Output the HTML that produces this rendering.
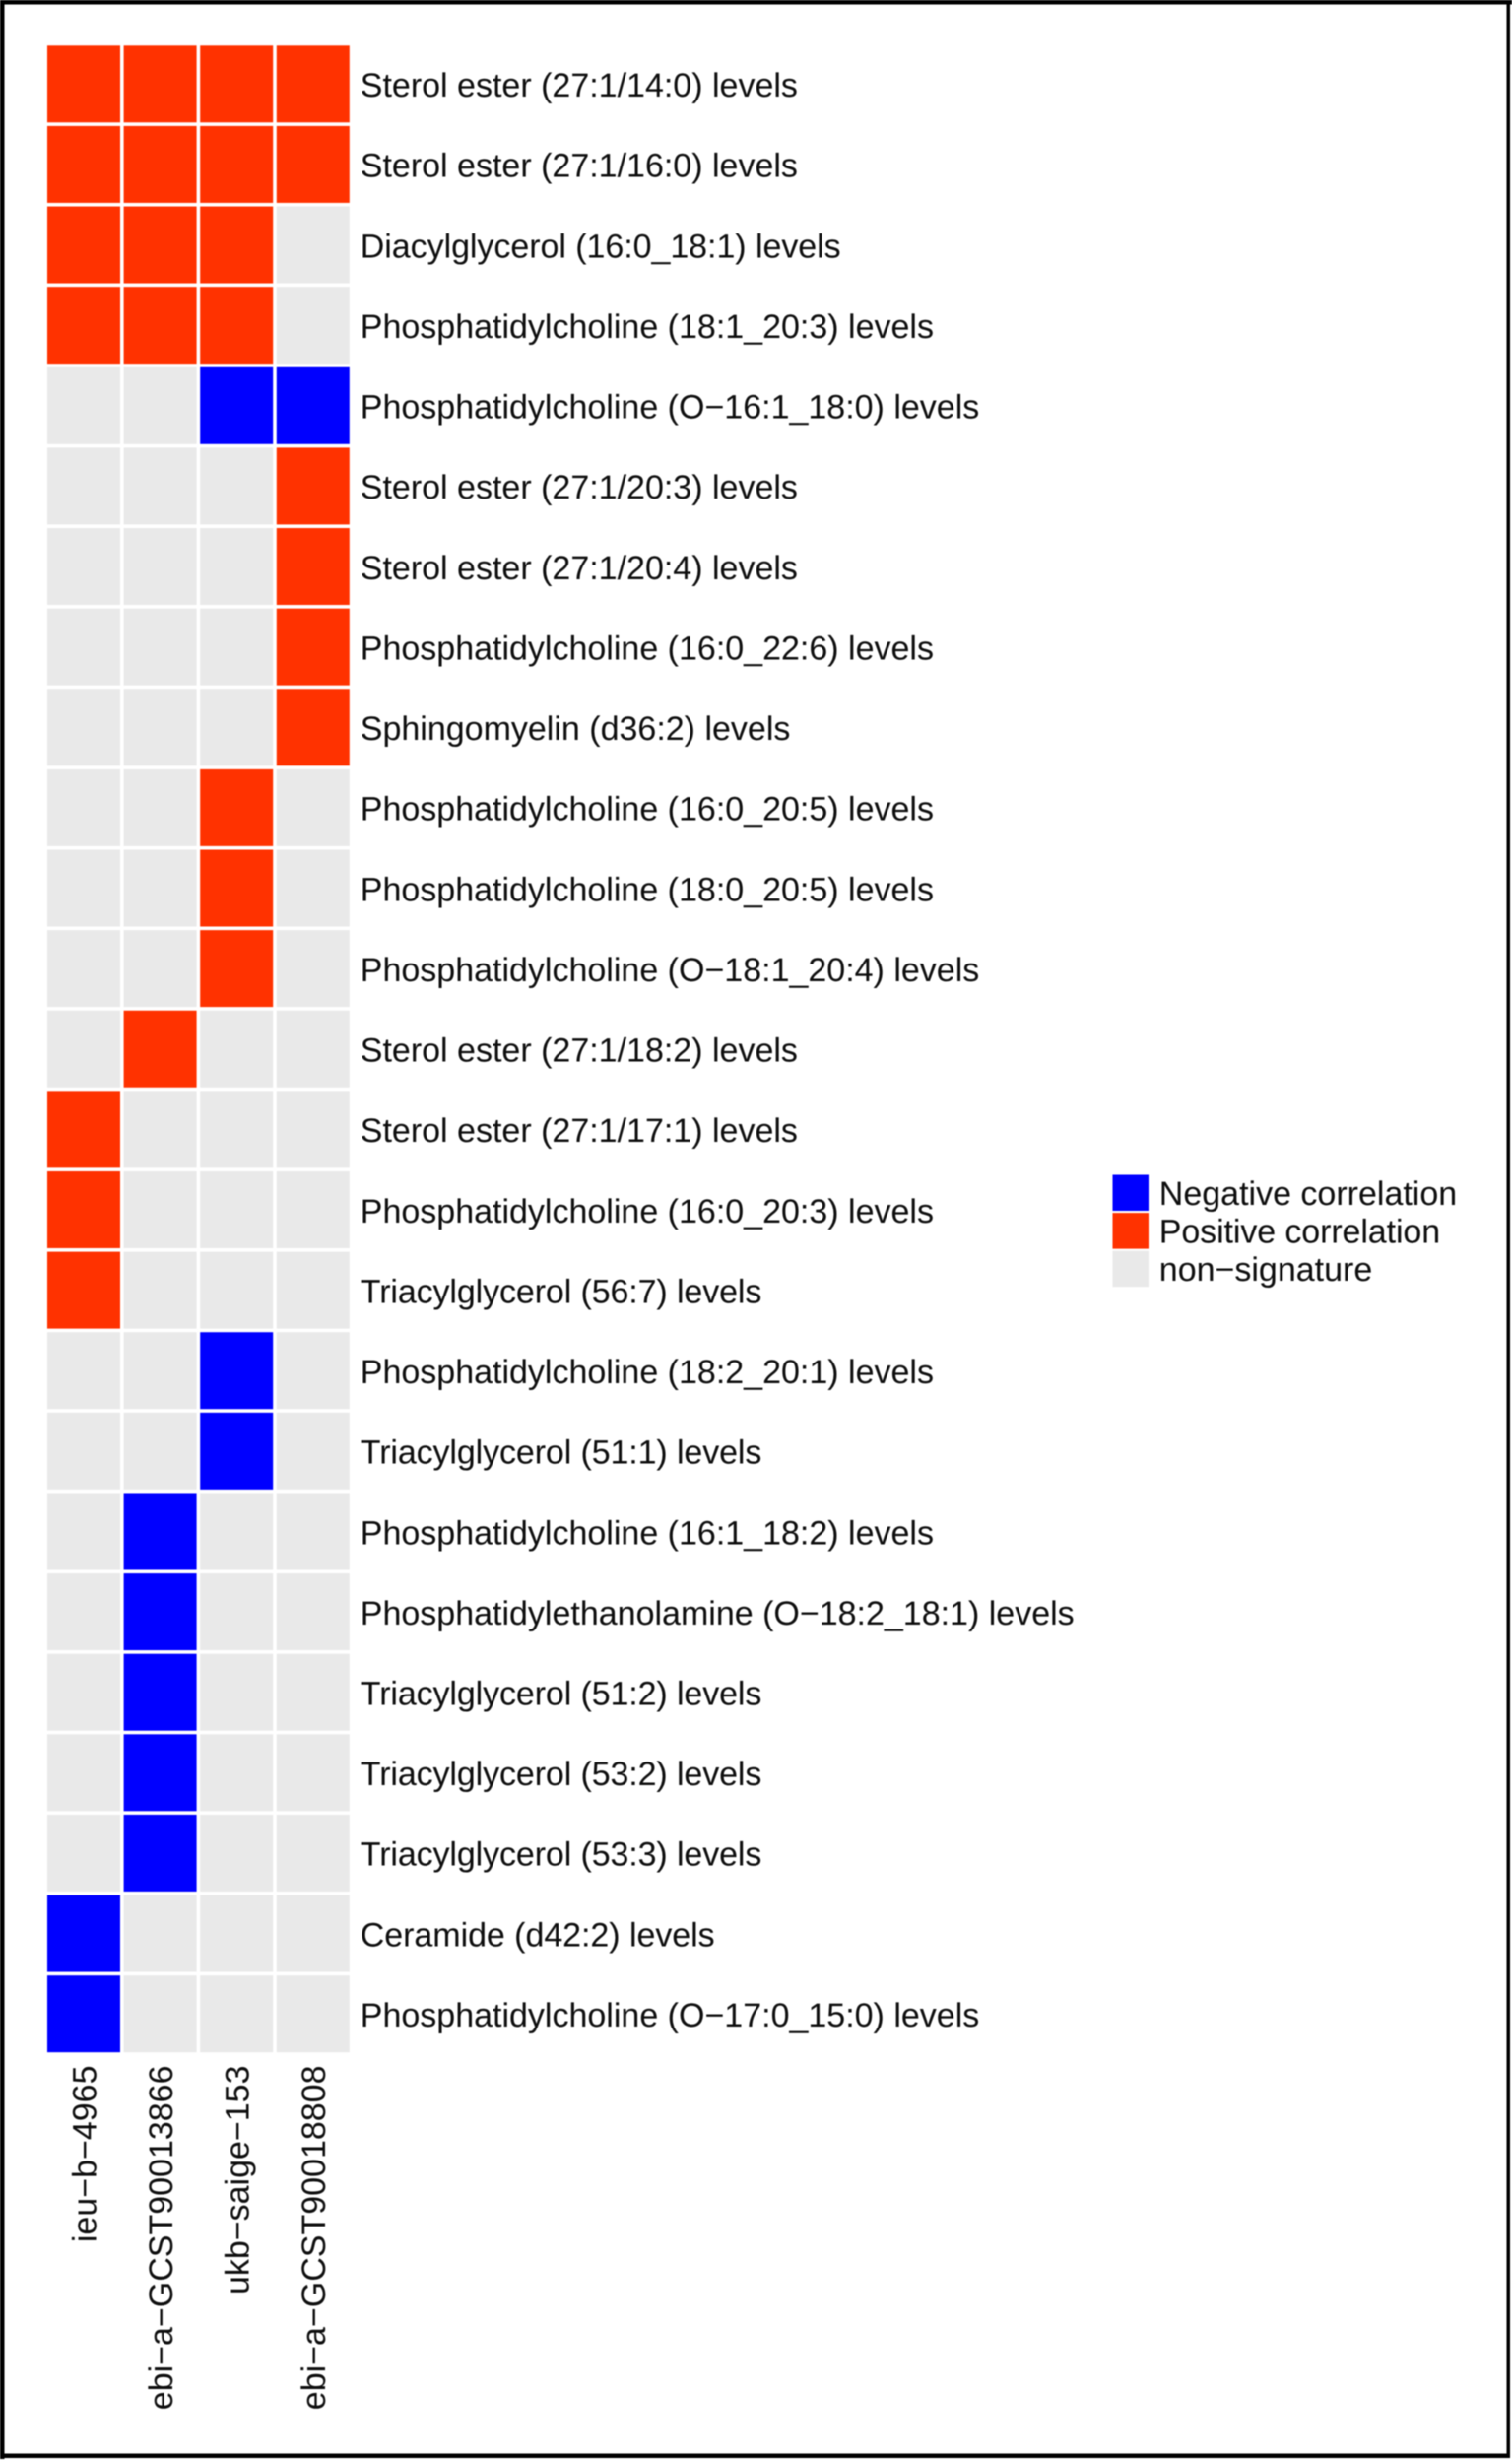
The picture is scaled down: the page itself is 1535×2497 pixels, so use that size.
<!DOCTYPE html>
<html lang="en">
<head>
<meta charset="utf-8">
<title>Lipid signature heatmap</title>
<style>
  html, body { margin: 0; padding: 0; background: #fff; }
  #chart { display: block; width: 1535px; height: 2497px; }
  text { font-family: "Liberation Sans", Arial, sans-serif; font-size: 34px; fill: #0a0a0a; text-rendering: geometricPrecision; }
</style>
</head>
<body>
<svg id="chart" xmlns="http://www.w3.org/2000/svg" width="1535" height="2497" viewBox="0 0 1535 2497">
  <defs>
    <filter id="soft" x="-2%" y="-2%" width="104%" height="104%"><feGaussianBlur stdDeviation="0.55"/></filter>
  </defs>
  <rect x="0" y="0" width="1535" height="2497" fill="#ffffff"/>
  <g id="plot" filter="url(#soft)"></g>
  <g id="frame" filter="url(#soft)">
    <rect x="0" y="0" width="1535" height="4.5" fill="#000"/>
    <rect x="0" y="0" width="4.5" height="2496" fill="#000"/>
    <rect x="1529.5" y="0" width="3.5" height="2495" fill="#000"/>
    <rect x="0" y="2490.5" width="1533" height="4.5" fill="#000"/>
  </g>
</svg>
<script>
const rowLabels = [
  "Sterol ester (27:1/14:0) levels",
  "Sterol ester (27:1/16:0) levels",
  "Diacylglycerol (16:0_18:1) levels",
  "Phosphatidylcholine (18:1_20:3) levels",
  "Phosphatidylcholine (O\u221216:1_18:0) levels",
  "Sterol ester (27:1/20:3) levels",
  "Sterol ester (27:1/20:4) levels",
  "Phosphatidylcholine (16:0_22:6) levels",
  "Sphingomyelin (d36:2) levels",
  "Phosphatidylcholine (16:0_20:5) levels",
  "Phosphatidylcholine (18:0_20:5) levels",
  "Phosphatidylcholine (O\u221218:1_20:4) levels",
  "Sterol ester (27:1/18:2) levels",
  "Sterol ester (27:1/17:1) levels",
  "Phosphatidylcholine (16:0_20:3) levels",
  "Triacylglycerol (56:7) levels",
  "Phosphatidylcholine (18:2_20:1) levels",
  "Triacylglycerol (51:1) levels",
  "Phosphatidylcholine (16:1_18:2) levels",
  "Phosphatidylethanolamine (O\u221218:2_18:1) levels",
  "Triacylglycerol (51:2) levels",
  "Triacylglycerol (53:2) levels",
  "Triacylglycerol (53:3) levels",
  "Ceramide (d42:2) levels",
  "Phosphatidylcholine (O\u221217:0_15:0) levels"
];
const columnLabels = ["ieu\u2212b\u22124965", "ebi\u2212a\u2212GCST90013866", "ukb\u2212saige\u2212153", "ebi\u2212a\u2212GCST90018808"];
const legendLabels = ["Negative correlation", "Positive correlation", "non\u2212signature"];

// One value per row: -1 negative correlation, 1 positive correlation, 0 non-signature
const ieuB4965 =        [1,1,1,1,0,0,0,0,0,0,0,0,0,1,1,1,0,0,0,0,0,0,0,-1,-1];
const ebiGcst90013866 = [1,1,1,1,0,0,0,0,0,0,0,0,1,0,0,0,0,0,-1,-1,-1,-1,-1,0,0];
const ukbSaige153 =     [1,1,1,1,-1,0,0,0,0,1,1,1,0,0,0,0,-1,-1,0,0,0,0,0,0,0];
const ebiGcst90018808 = [1,1,0,0,-1,1,1,1,1,0,0,0,0,0,0,0,0,0,0,0,0,0,0,0,0];
const seriesValues = [ieuB4965, ebiGcst90013866, ukbSaige153, ebiGcst90018808];
const legendValues = [-1, 1, 0];

const NS = "http://www.w3.org/2000/svg";
const plot = document.getElementById("plot");
const GRID_LEFT = 48, COL_STEP = 77.6, CELL_W = 74;
const GRID_TOP = 46.3, ROW_STEP = 81.62, CELL_H = 78;
function colorOf(v) { return v < 0 ? "#0000ff" : v > 0 ? "#ff3300" : "#e9e9e9"; }
function xPos(i) { return GRID_LEFT + i * COL_STEP; }
function yPos(r) { return GRID_TOP + r * ROW_STEP; }
// Tighter kerning seen in the reference for a few words
function tracking(label) {
  if (label.indexOf("Tri") === 0) return "-0.11px";
  if (label.indexOf("Dia") === 0 || label.indexOf("Cer") === 0) return "-0.05px";
  if (label.indexOf("Positive") === 0) return "-0.1px";
  return "0";
}

seriesValues.forEach(function (values, c) {
  values.forEach(function (v, r) {
    const cell = document.createElementNS(NS, "rect");
    cell.setAttribute("x", xPos(c));
    cell.setAttribute("y", yPos(r));
    cell.setAttribute("width", CELL_W);
    cell.setAttribute("height", CELL_H);
    cell.setAttribute("fill", colorOf(v));
    
    
    plot.appendChild(cell);
  });
});

rowLabels.forEach(function (label, r) {
  const t = document.createElementNS(NS, "text");
  t.setAttribute("x", 365.8);
  t.setAttribute("y", yPos(r) + CELL_H / 2 + 12.8);
  t.setAttribute("letter-spacing", tracking(label));
  t.textContent = label;
  
  
  plot.appendChild(t);
});

columnLabels.forEach(function (label, c) {
  const bx = xPos(c) + CELL_W / 2 + 12.3;
  const by = 2096.5;
  const t = document.createElementNS(NS, "text");
  t.setAttribute("transform", "translate(" + bx + " " + by + ") rotate(-90)");
  t.setAttribute("text-anchor", "end");
  t.textContent = label;
  
  
  plot.appendChild(t);
});

legendLabels.forEach(function (label, i) {
  const y = 1192.5 + i * 38.6;
  const sw = document.createElementNS(NS, "rect");
  sw.setAttribute("x", 1129.5);
  sw.setAttribute("y", y);
  sw.setAttribute("width", 36.5);
  sw.setAttribute("height", 36.5);
  sw.setAttribute("fill", colorOf(legendValues[i]));
  
  
  plot.appendChild(sw);
  const t = document.createElementNS(NS, "text");
  t.setAttribute("x", 1176.8);
  t.setAttribute("y", y + 30.5);
  t.setAttribute("letter-spacing", tracking(label));
  t.textContent = label;
  
  
  plot.appendChild(t);
});
</script>
</body>
</html>
